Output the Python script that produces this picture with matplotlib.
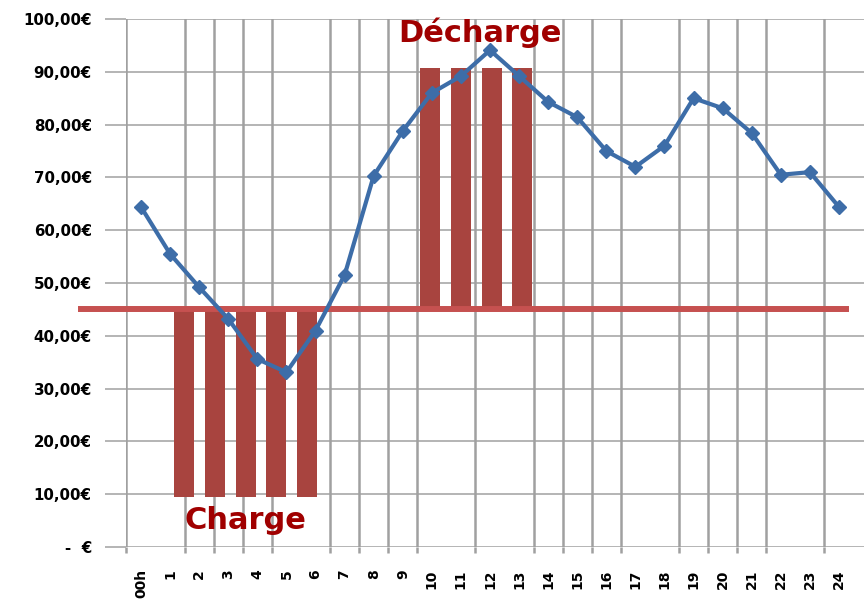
import matplotlib
matplotlib.use('Agg')
import matplotlib.pyplot as plt

# hourly price (EUR)
hours = list(range(25))
hour_labels = ['00h'] + [str(h) for h in range(1, 25)]
prices = [64.4, 55.5, 49.2, 43.2, 35.6, 33.1, 41.0, 51.5, 70.3, 78.8, 86.0, 89.2, 94.1,
          89.2, 84.3, 81.4, 75.0, 72.0, 76.0, 85.0, 83.1, 78.4, 70.5, 71.0, 64.4]

# storage bars (charge below the threshold, discharge above)
threshold = 45.0
charge_slots = [2, 3, 4, 5, 6]
charge_low = [9.5, 9.5, 9.5, 9.5, 9.5]
discharge_slots = [10, 11, 12, 13]
discharge_high = [90.8, 90.8, 90.8, 90.8]

y_ticks = [0, 10, 20, 30, 40, 50, 60, 70, 80, 90, 100]
y_labels = ['-  €', '10,00€', '20,00€', '30,00€', '40,00€', '50,00€',
            '60,00€', '70,00€', '80,00€', '90,00€', '100,00€']
# vertical grid lines between categories (some are absent in the original)
grid_x = [-0.5, 1.5, 2.5, 3.5, 4.5, 6.5, 7.5, 8.5, 9.5, 11.5, 13.5, 14.5, 15.5,
          16.5, 18.5, 19.5, 20.5, 21.5, 23.5]

blue = '#3D6DA8'
bar_red = '#A8443F'
line_red = '#C65150'
text_red = '#A00000'
grid_col = '#A0A0A0'

fig = plt.figure(figsize=(8.64, 6.02), dpi=100)
ax = fig.add_axes([0.1464, 0.0914, 0.8536, 0.877])
ax.set_xlim(-0.5, 24.86)
ax.set_ylim(0, 100)
for s in ax.spines.values():
    s.set_visible(False)

# y axis: grid + long outward ticks
ax.set_yticks(y_ticks)
ax.set_yticklabels(y_labels, fontsize=10.8, fontweight='bold', color='black')
ax.tick_params(axis='y', length=15, width=1.1, color=grid_col, pad=10)
ax.yaxis.grid(True, color=grid_col, linewidth=1.1)

# x axis: labels on categories, grid on minor ticks between them
ax.set_xticks(hours)
ax.set_xticklabels(hour_labels, rotation=90, fontsize=10, fontweight='bold')
ax.tick_params(axis='x', which='major', length=0, pad=16)
ax.set_xticks(grid_x, minor=True)
ax.tick_params(axis='x', which='minor', length=4.3, width=1.8, color=grid_col)
ax.xaxis.grid(True, which='minor', color=grid_col, linewidth=1.8)
ax.xaxis.grid(False, which='major')
ax.set_axisbelow(True)

# bars on their own category scale
ax_b = ax.twiny()
ax_b.set_xlim(0.13, 24.11)
ax_b.set_ylim(0, 100)
ax_b.axis('off')
ax_b.bar(charge_slots, [threshold - v for v in charge_low], bottom=charge_low,
         width=0.65, color=bar_red, linewidth=0)
ax_b.bar(discharge_slots, [v - threshold for v in discharge_high], bottom=threshold,
         width=0.65, color=bar_red, linewidth=0)

# threshold line and price curve on top
ax_l = ax.twiny()
ax_l.set_xlim(ax.get_xlim())
ax_l.set_ylim(0, 100)
ax_l.axis('off')
ax_l.axhline(threshold, xmin=-0.062, xmax=0.976, color=line_red, linewidth=4.3,
             clip_on=False)
ax_l.plot(hours, prices, color=blue, linewidth=3.0, marker='D', markersize=7,
          markerfacecolor=blue, markeredgecolor=blue)

ax_l.text(11.64, 95.6, 'Décharge', color=text_red, fontsize=22, fontweight='bold',
          ha='center', va='baseline')
ax_l.text(3.58, 3.4, 'Charge', color=text_red, fontsize=22, fontweight='bold',
          ha='center', va='baseline')

fig.savefig('out.png', dpi=100)
